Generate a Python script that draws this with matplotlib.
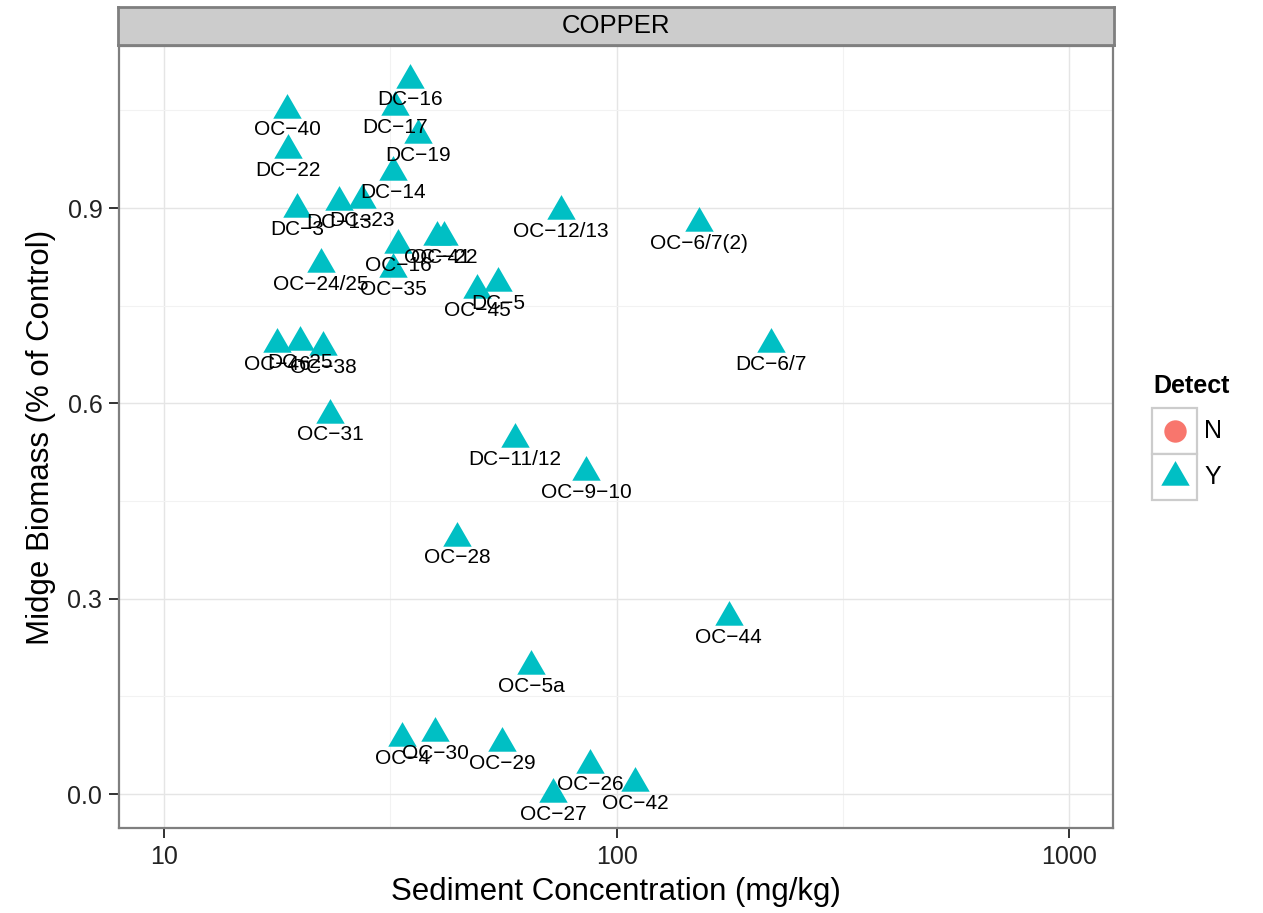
import numpy as np
import matplotlib
matplotlib.use("Agg")
import matplotlib.pyplot as plt
from matplotlib.patches import Rectangle
from matplotlib.ticker import FixedLocator, NullFormatter

plt.rcParams['font.family'] = ['Liberation Sans', 'DejaVu Sans']

# station labels, sediment copper (mg/kg), midge biomass (fraction of control)
sites = ["DC-16", "OC-40", "DC-17", "DC-22", "DC-19", "DC-14", "DC-3", "DC-13",
         "DC-23", "OC-12/13", "OC-6/7(2)", "OC-16", "OC-41", "OC-22", "OC-35",
         "OC-24/25", "OC-45", "DC-5", "DC-6/7", "OC-46", "DC-25", "OC-38",
         "OC-31", "DC-11/12", "OC-9-10", "OC-28", "OC-44", "OC-5a", "OC-4",
         "OC-30", "OC-29", "OC-26", "OC-42", "OC-27"]
conc = [35.0, 18.7, 32.4, 18.8, 36.4, 32.1, 19.7, 24.4,
        27.4, 75.3, 152.0, 32.9, 40.1, 41.6, 32.1,
        22.2, 49.2, 54.7, 219.0, 17.8, 20.0, 22.5,
        23.3, 59.7, 85.6, 44.4, 177.0, 64.7, 33.6,
        39.7, 55.8, 87.3, 109.9, 72.4]
biomass = [1.097, 1.051, 1.055, 0.989, 1.012, 0.955, 0.898, 0.909,
           0.912, 0.895, 0.877, 0.843, 0.855, 0.855, 0.806,
           0.814, 0.774, 0.785, 0.691, 0.691, 0.694, 0.686,
           0.583, 0.545, 0.494, 0.394, 0.272, 0.197, 0.086,
           0.094, 0.078, 0.045, 0.017, 0.0]
detect = ["Y"] * len(sites)

detect_levels = ["N", "Y"]
detect_colors = {"N": "#F8766D", "Y": "#00BFC4"}
# triangle centred on its centroid, like R's filled triangle
tri = [(0, 1), (-0.866, -0.5), (0.866, -0.5), (0, 1)]
detect_markers = {"N": "o", "Y": tri}
detect_sizes = {"N": 260, "Y": 560}

W, H = 1263, 913
fig = plt.figure(figsize=(W / 100, H / 100), dpi=100)

# panel
ax = fig.add_axes([119 / W, 1 - 828 / H, (1113 - 119) / W, (828 - 46) / H])
ax.set_xscale("log")
ax.set_xlim(7.95, 1250)
ax.set_ylim(-0.052, 1.149)

ax.xaxis.set_major_locator(FixedLocator([10, 100, 1000]))
ax.xaxis.set_minor_locator(FixedLocator([10 ** 1.5, 10 ** 2.5]))
ax.xaxis.set_minor_formatter(NullFormatter())
ax.set_xticklabels(["10", "100", "1000"])
ax.yaxis.set_major_locator(FixedLocator([0.0, 0.3, 0.6, 0.9]))
ax.yaxis.set_minor_locator(FixedLocator([0.15, 0.45, 0.75, 1.05]))
ax.set_yticklabels(["0.0", "0.3", "0.6", "0.9"])

ax.grid(which="major", color="#E5E5E5", linewidth=1.0)
ax.grid(which="minor", color="#F2F2F2", linewidth=0.8)
ax.set_axisbelow(True)
ax.tick_params(which="major", length=7, width=1.3, color="#222222",
               labelsize=18, labelcolor="#222222", pad=5)
ax.tick_params(which="minor", length=0)
for s in ax.spines.values():
    s.set_color("#7F7F7F")
    s.set_linewidth(1.6)

for lvl in detect_levels:
    xs = [c for c, d in zip(conc, detect) if d == lvl]
    ys = [b for b, d in zip(biomass, detect) if d == lvl]
    ax.scatter(xs, ys, marker=detect_markers[lvl], s=detect_sizes[lvl],
               color=detect_colors[lvl], linewidths=0, zorder=3)

for name, x, y in zip(sites, conc, biomass):
    ax.annotate(name.replace("-", "\u2212"), (x, y), xytext=(0, -14.5),
                textcoords="offset points", ha="center", va="center",
                fontsize=15, color="black", zorder=4)

ax.set_xlabel("Sediment Concentration (mg/kg)", fontsize=22.5, labelpad=6)
ax.set_ylabel("Midge Biomass (% of Control)", fontsize=22.5, labelpad=8)

# facet strip
sax = fig.add_axes([118 / W, 1 - 45 / H, (1114 - 118) / W, (45 - 7) / H])
sax.set_xticks([])
sax.set_yticks([])
sax.set_facecolor("#CCCCCC")
for s in sax.spines.values():
    s.set_color("#7F7F7F")
    s.set_linewidth(2.0)
sax.text(0.5, 0.5, "COPPER", ha="center", va="center", fontsize=18.5,
         transform=sax.transAxes)

# legend
lax = fig.add_axes([1140 / W, 1 - 510 / H, 120 / W, 140 / H])
lax.set_xlim(1140, 1260)
lax.set_ylim(510, 370)
lax.axis("off")
lax.text(1153, 386, "Detect", fontsize=18, fontweight="bold", ha="left", va="center")
for i, lvl in enumerate(detect_levels):
    y0 = 408 + i * 46
    lax.add_patch(Rectangle((1152, y0), 45, 46, facecolor="white",
                            edgecolor="#CCCCCC", linewidth=1.6))
    lax.scatter([1174.5], [y0 + 23], marker=detect_markers[lvl],
                s=detect_sizes[lvl], color=detect_colors[lvl], linewidths=0)
    lax.text(1204, y0 + 23, lvl, fontsize=18, ha="left", va="center")

fig.savefig("out.png", dpi=100)
